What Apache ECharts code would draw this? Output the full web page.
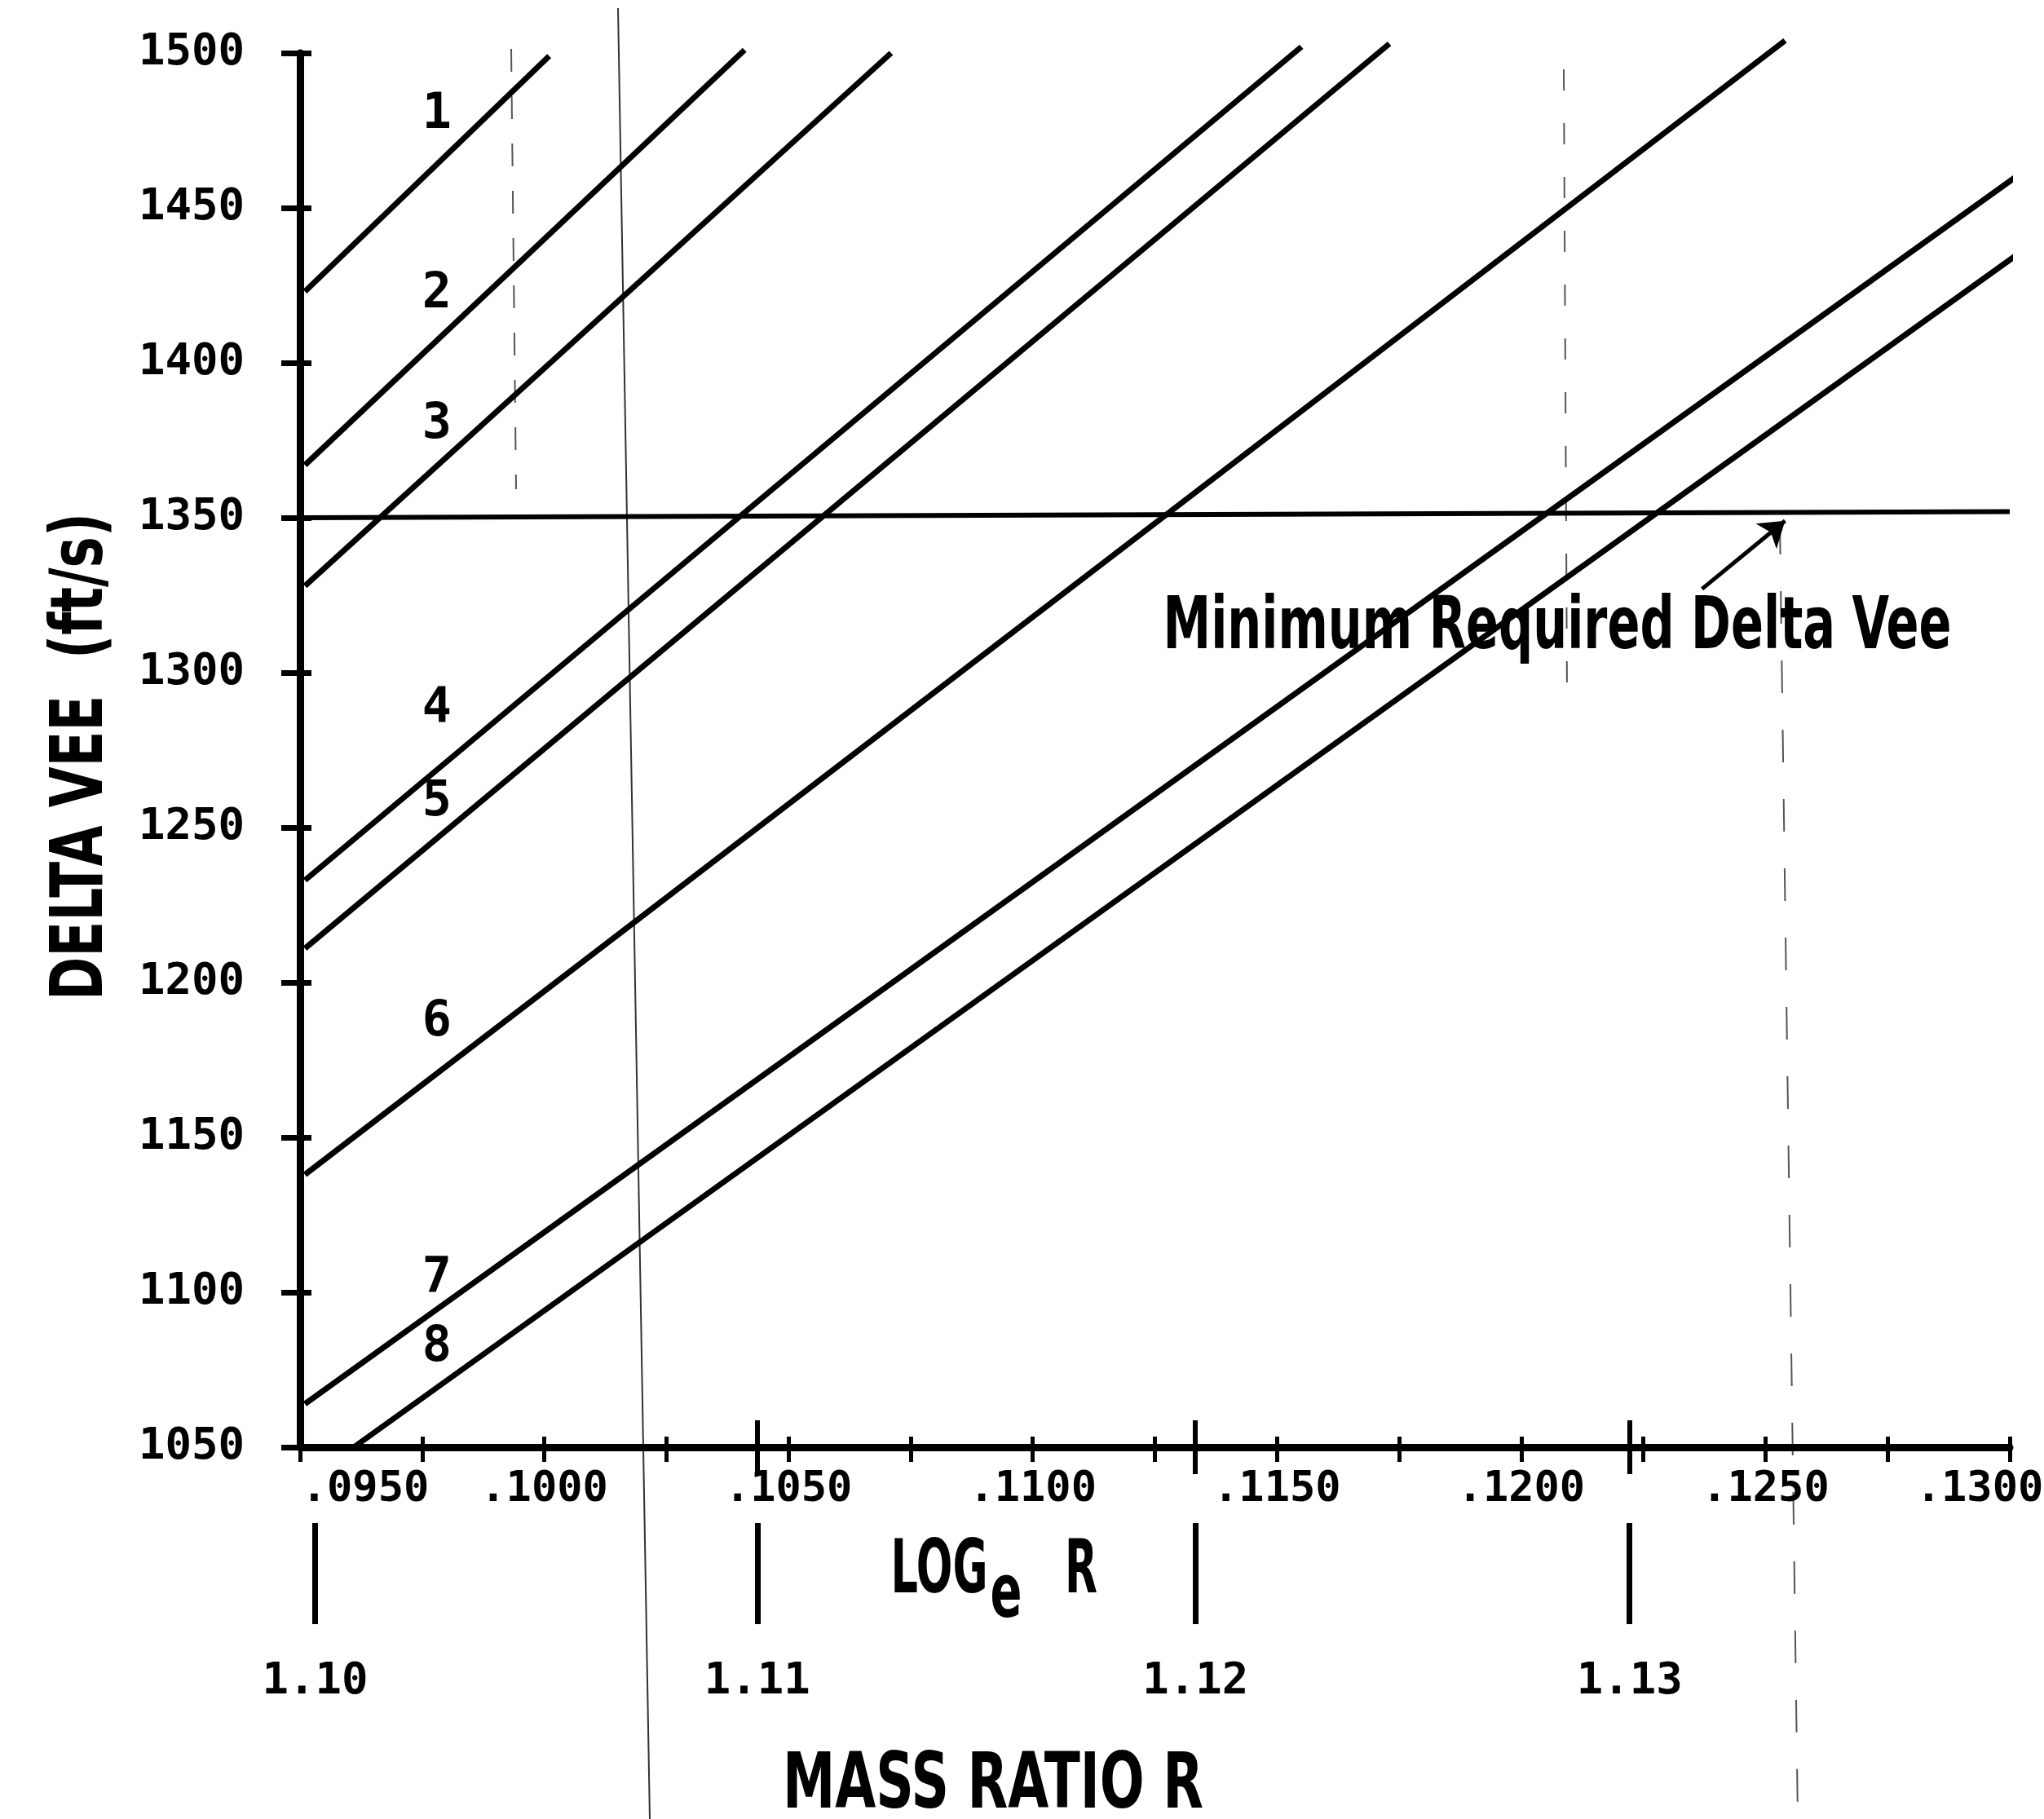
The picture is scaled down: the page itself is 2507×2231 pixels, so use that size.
<!DOCTYPE html>
<html>
<head>
<meta charset="utf-8">
<title>Delta Vee vs Mass Ratio</title>
<script src="https://cdn.jsdelivr.net/npm/echarts@6/dist/echarts.min.js"></script>
<style>
  html, body { margin: 0; padding: 0; background: #fff; }
  #chart { width: 2507px; height: 2231px; }
</style>
</head>
<body>
<div id="chart"></div>
<script>
var curveNames  = ['1', '2', '3', '4', '5', '6', '7', '8'];
var startLogR   = [0.0951, 0.0951, 0.0951, 0.0951, 0.0951, 0.0951, 0.0951, 0.0961];
var startDeltaV = [1423, 1367, 1328, 1233, 1211, 1138, 1064, 1050];
var endLogR     = [0.1001, 0.1041, 0.1071, 0.1155, 0.1173, 0.1254, 0.1303, 0.1306];
var endDeltaV   = [1499, 1501, 1500, 1502, 1503, 1504, 1462, 1440];

// where the curve numbers are written
var tagLogR   = [0.0978, 0.0978, 0.0978, 0.0978, 0.0978, 0.0978, 0.0978, 0.0978];
var tagDeltaV = [1480, 1422, 1380, 1288, 1258, 1187, 1104, 1082];

// minimum required delta vee and its pointer
var minLogR     = [0.0950, 0.1300];
var minDeltaV   = [1350, 1352];
var arrowLogR   = [0.1237, 0.1254];
var arrowDeltaV = [1327, 1349];

// mass ratio scale printed under the log axis
var massRatios = [1.10, 1.11, 1.12, 1.13];

var X_MIN = 0.0950, X_MAX = 0.1300, X_STEP = 0.0025;
var Y_MIN = 1050, Y_MAX = 1500, Y_STEP = 50;

var monoFont = 'DejaVu Sans Mono';
var condFont = '"DejaVu Sans Condensed", "DejaVu Sans", sans-serif';

var ratioPos = massRatios.map(function (r) { return Math.log(r); });

// squeeze the titles to the width they take on the original
var measure = document.createElement('canvas').getContext('2d');
function squeeze(text, size, width) {
    measure.font = 'bold ' + size + 'px ' + condFont;
    return width / measure.measureText(text).width;
}

function logLabel(v) {
    var k = Math.round(v / X_STEP);
    if (k % 2) return '';
    var s = '.' + v.toFixed(4).split('.')[1];
    if (k === Math.round(X_MIN / X_STEP)) return '{first|' + s + '}';
    if (k === Math.round(X_MAX / X_STEP)) return '{last|' + s + '}';
    return '{n|' + s + '}';
}

var labelText = { fontFamily: monoFont, fontWeight: 'bold', fontSize: 52, color: '#000' };

var series = curveNames.map(function (name, i) {
    return {
        name: 'curve ' + name,
        type: 'line',
        data: [[startLogR[i], startDeltaV[i]], [endLogR[i], endDeltaV[i]]],
        symbol: 'none',
        clip: false,
        lineStyle: { color: '#000', width: 7 },
        animation: false
    };
});

series.push({
    name: 'minimum',
    type: 'line',
    data: [[minLogR[0], minDeltaV[0]], [minLogR[1], minDeltaV[1]]],
    symbol: 'none',
    clip: false,
    lineStyle: { color: '#000', width: 6 },
    animation: false,
    markLine: {
        silent: true,
        animation: false,
        symbol: ['none', 'arrow'],
        symbolSize: 30,
        label: { show: false },
        lineStyle: { color: '#000', width: 5, type: 'solid' },
        data: [[
            { coord: [arrowLogR[0], arrowDeltaV[0]] },
            { coord: [arrowLogR[1], arrowDeltaV[1]] }
        ]]
    }
});

series.push({
    name: 'tags',
    type: 'scatter',
    data: tagLogR.map(function (x, i) { return [x, tagDeltaV[i], curveNames[i]]; }),
    symbolSize: 0,
    itemStyle: { color: 'rgba(0,0,0,0)' },
    label: {
        show: true,
        position: 'inside',
        formatter: function (p) { return p.data[2]; },
        fontFamily: monoFont,
        fontWeight: 'bold',
        fontSize: 60,
        color: '#000',
        textBorderWidth: 0,
        opacity: 1
    },
    animation: false
});

var c = echarts.init(document.getElementById('chart'));

var m = {
    backgroundColor: '#fff',
    animation: false,
    grid: { left: 368, right: 42, top: 65, bottom: 456, outerBoundsMode: 'none' },
    xAxis: [
        {
            type: 'value', position: 'bottom', min: X_MIN, max: X_MAX, interval: X_STEP,
            axisLine: { lineStyle: { color: '#000', width: 9 } },
            axisTick: { length: 18, lineStyle: { color: '#000', width: 5 } },
            splitLine: { show: false },
            axisLabel: {
                margin: 26,
                formatter: logLabel,
                rich: {
                    n: labelText,
                    first: echarts.util.extend({ padding: [0, 0, 0, 160] }, labelText),
                    last: echarts.util.extend({ padding: [0, 74, 0, 0] }, labelText)
                }
            }
        },
        {
            // inner half of the ticks, so they cross the axis line
            type: 'value', position: 'bottom', min: X_MIN, max: X_MAX, interval: X_STEP,
            axisLine: { show: false },
            axisTick: { inside: true, length: 13, lineStyle: { color: '#000', width: 5 } },
            axisLabel: { show: false },
            splitLine: { show: false }
        },
        {
            // long crossing ticks where the mass ratio marks fall
            type: 'value', position: 'bottom', min: X_MIN, max: X_MAX, offset: -33,
            axisLine: { show: false },
            axisTick: { length: 66, customValues: ratioPos.slice(1), lineStyle: { color: '#000', width: 6 } },
            axisLabel: { show: false },
            splitLine: { show: false }
        },
        {
            // mass ratio R scale
            type: 'value', position: 'bottom', min: X_MIN, max: X_MAX, offset: 93,
            axisLine: { show: false },
            axisTick: { length: 124, customValues: ratioPos, lineStyle: { color: '#000', width: 7 } },
            axisLabel: {
                customValues: ratioPos,
                margin: 168,
                formatter: function (v) { return Math.exp(v).toFixed(2); },
                fontFamily: monoFont, fontWeight: 'bold', fontSize: 54, color: '#000'
            },
            splitLine: { show: false }
        }
    ],
    yAxis: [
        {
            type: 'value', position: 'left', min: Y_MIN, max: Y_MAX, interval: Y_STEP,
            axisLine: { lineStyle: { color: '#000', width: 9 } },
            axisTick: { length: 23, lineStyle: { color: '#000', width: 7 } },
            splitLine: { show: false },
            axisLabel: {
                margin: 68,
                formatter: function (v) { return String(v); },
                fontFamily: monoFont, fontWeight: 'bold', fontSize: 54, color: '#000'
            }
        },
        {
            type: 'value', position: 'left', min: Y_MIN, max: Y_MAX, interval: Y_STEP,
            axisLine: { show: false },
            axisTick: { inside: true, length: 14, lineStyle: { color: '#000', width: 7 } },
            axisLabel: { show: false },
            splitLine: { show: false }
        }
    ],
    graphic: [
        // fold line and faint dashed marks on the scanned sheet
        { type: 'line', z: -1, shape: { x1: 758, y1: 10, x2: 797, y2: 2231 }, style: { stroke: '#333', lineWidth: 2 } },
        { type: 'line', z: -1, shape: { x1: 627, y1: 60, x2: 633, y2: 600 }, style: { stroke: '#555', lineWidth: 2, lineDash: [28, 30] } },
        { type: 'line', z: -1, shape: { x1: 1918, y1: 85, x2: 1922, y2: 853 }, style: { stroke: '#555', lineWidth: 2, lineDash: [26, 40] } },
        { type: 'line', z: -1, shape: { x1: 2183, y1: 640, x2: 2205, y2: 2231 }, style: { stroke: '#555', lineWidth: 2, lineDash: [40, 45] } },
        {
            type: 'text', x: 102, y: 928, rotation: Math.PI / 2,
            scaleX: squeeze('DELTA VEE  (ft/s)', 89, 598),
            style: { text: 'DELTA VEE  (ft/s)', fontFamily: condFont, fontWeight: 'bold', fontSize: 89, fill: '#000', align: 'center', verticalAlign: 'middle' }
        },
        {
            type: 'text', x: 1910, y: 772,
            scaleX: squeeze('Minimum Required Delta Vee', 89, 967),
            style: { text: 'Minimum Required Delta Vee', fontFamily: condFont, fontWeight: 'bold', fontSize: 89, fill: '#000', align: 'center', verticalAlign: 'middle' }
        },
        {
            type: 'text', x: 1152, y: 1930,
            scaleX: squeeze('LOG', 90, 119),
            style: { text: 'LOG', fontFamily: condFont, fontWeight: 'bold', fontSize: 90, fill: '#000', align: 'center', verticalAlign: 'middle' }
        },
        {
            type: 'text', x: 1234, y: 1960,
            scaleX: squeeze('e', 90, 39),
            style: { text: 'e', fontFamily: condFont, fontWeight: 'bold', fontSize: 90, fill: '#000', align: 'center', verticalAlign: 'middle' }
        },
        {
            type: 'text', x: 1326, y: 1930,
            scaleX: squeeze('R', 90, 40),
            style: { text: 'R', fontFamily: condFont, fontWeight: 'bold', fontSize: 90, fill: '#000', align: 'center', verticalAlign: 'middle' }
        },
        {
            type: 'text', x: 1218, y: 2192,
            scaleX: squeeze('MASS RATIO R', 95, 516),
            style: { text: 'MASS RATIO R', fontFamily: condFont, fontWeight: 'bold', fontSize: 95, fill: '#000', align: 'center', verticalAlign: 'middle' }
        }
    ],
    series: series
};

m && "object" == typeof m && c.setOption(m, !0);
</script>
</body>
</html>
